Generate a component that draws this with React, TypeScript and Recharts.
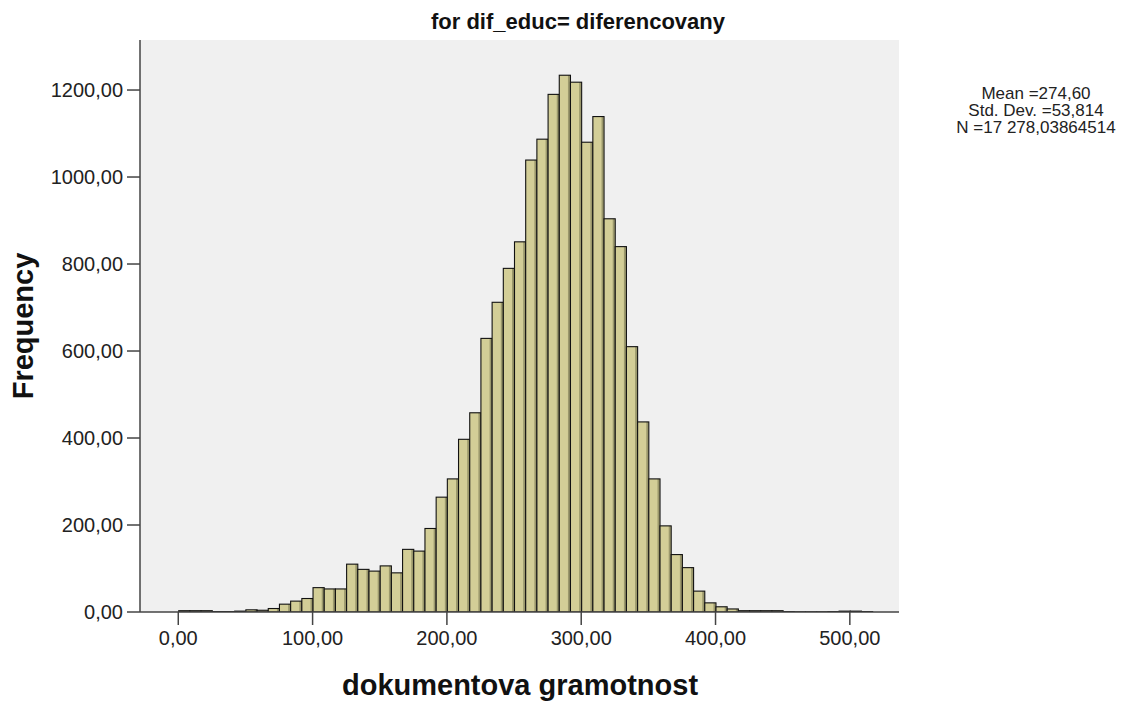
import { ComposedChart, Bar, XAxis, YAxis, CartesianGrid, Customized } from "recharts";

// histogram bins of width 25/3, starting at 0
const binWidth = 25 / 3;
const binCounts = [
  3, 3, 3, 1, 1, 2, 5, 4, 8, 18, 25, 31,
  56, 53, 53, 110, 98, 94, 106, 90, 144, 140,
  192, 264, 306, 397, 458, 629, 712, 790,
  851, 1039, 1087, 1190, 1234, 1218, 1080, 1139, 904, 840,
  610, 437, 306, 198, 132, 102, 48, 21, 12, 7,
  3, 3, 3, 3, 1, 0.5, 0.5, 0.5, 1, 2, 2, 1,
];
const xTicks = [0, 100, 200, 300, 400, 500];
const yTicks = [0, 200, 400, 600, 800, 1000, 1200];
const statLines = ["Mean =274,60", "Std. Dev. =53,814", "N =17 278,03864514"];
const title = "for dif_educ= diferencovany";
const xTitle = "dokumentova gramotnost";
const yTitle = "Frequency";

const data = binCounts.map((count, i) => ({ mid: (i + 0.5) * binWidth, count }));

const W = 1145;
const H = 702;
const PLOT = { left: 140, right: 899, top: 40, bottom: 612 };
const X_DOMAIN: [number, number] = [-28.5, 536.6];
const Y_DOMAIN: [number, number] = [0, 1315];
const BIN_PX = binWidth * ((PLOT.right - PLOT.left) / (X_DOMAIN[1] - X_DOMAIN[0]));

const FONT = "'Liberation Sans', Arial, sans-serif";
const fmt = (v: number) => v.toFixed(2).replace(".", ",");

const BinShape = (props: any) => {
  const { x, y, width, height } = props;
  if (height == null || isNaN(y)) return null;
  const left = x + width / 2 - BIN_PX / 2;
  const h = Math.max(height, 0);
  return (
    <g>
      <rect x={left} y={y} width={BIN_PX} height={h} fill="#d3ce97" />
      {h > 2 && <rect x={left + BIN_PX - 2.5} y={y} width={2} height={h} fill="#6e6b49" opacity={0.55} />}
      <rect x={left} y={y} width={BIN_PX} height={h} fill="none" stroke="#111" strokeWidth={1.1} />
    </g>
  );
};

const Texts = () => (
  <g fontFamily={FONT}>
    <text x={578} y={29} textAnchor="middle" fontSize={22} fontWeight="bold" fill="#111">
      {title}
    </text>
    <text x={520} y={695} textAnchor="middle" fontSize={29} fontWeight="bold" fill="#111">
      {xTitle}
    </text>
    <text
      x={33}
      y={326}
      textAnchor="middle"
      fontSize={29}
      fontWeight="bold"
      fill="#111"
      transform="rotate(-90 33 326)"
    >
      {yTitle}
    </text>
    {statLines.map((s, i) => (
      <text key={s} x={1036} y={99 + i * 17} textAnchor="middle" fontSize={17} fill="#222">
        {s}
      </text>
    ))}
  </g>
);

export default function App() {
  return (
    <div style={{ position: "absolute", left: 0, top: 0, width: W, height: H, background: "#fff" }}>
      <ComposedChart
        width={W}
        height={H}
        data={data}
        margin={{ top: PLOT.top, right: W - PLOT.right, bottom: 0, left: 0 }}
      >
        <CartesianGrid horizontal={false} vertical={false} fill="#f0f0f0" />
        <XAxis
          dataKey="mid"
          type="number"
          domain={X_DOMAIN}
          ticks={xTicks}
          allowDataOverflow
          tickFormatter={fmt}
          height={H - PLOT.bottom}
          tickSize={13}
          tickMargin={6}
          stroke="#444"
          strokeWidth={1.5}
          tick={{ fill: "#222", fontSize: 20, fontFamily: FONT }}
        />
        <XAxis xAxisId="top" orientation="top" type="number" domain={X_DOMAIN} height={0} tick={false} tickLine={false} stroke="#555" strokeWidth={1.5} />
        <YAxis
          type="number"
          domain={Y_DOMAIN}
          ticks={yTicks}
          allowDataOverflow
          tickFormatter={fmt}
          width={PLOT.left}
          tickSize={13}
          tickMargin={4}
          stroke="#444"
          strokeWidth={1.5}
          tick={{ fill: "#222", fontSize: 20, fontFamily: FONT }}
        />
        <YAxis yAxisId="right" orientation="right" type="number" domain={Y_DOMAIN} width={0} tick={false} tickLine={false} stroke="#555" strokeWidth={1.5} />
        <Bar dataKey="count" barSize={BIN_PX} shape={BinShape} isAnimationActive={false} />
        <Customized component={Texts} />
      </ComposedChart>
    </div>
  );
}
